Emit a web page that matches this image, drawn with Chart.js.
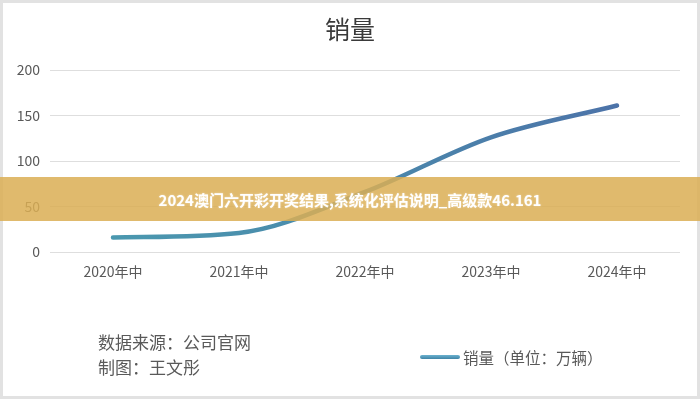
<!DOCTYPE html>
<html>
<head>
<meta charset="utf-8">
<script src="https://cdn.jsdelivr.net/npm/chart.js@4"></script>
<style>
  html, body { margin: 0; padding: 0; background: #fff; }
  #wrap { position: relative; width: 700px; height: 399px; overflow: hidden; }
  #frame { position: absolute; left: 0; top: 0; width: 700px; height: 399px; box-sizing: border-box;
    border: 3px solid #e2e2e2; pointer-events: none; }
  #title { position: absolute; left: 0; width: 700px; top: 10px; text-align: center;
    font: 400 25px "Noto Sans CJK SC", sans-serif; color: #3a3a3a; }
  .note { position: absolute; left: 98px; font: 400 17px "Noto Sans CJK SC", sans-serif; color: #595959; line-height: 24px; }
  #legend { position: absolute; left: 420px; top: 346px; display: flex; align-items: center;
    font: 400 15.5px "Noto Sans CJK SC", sans-serif; color: #595959; }
  #legend .swatch { width: 40px; height: 4px; border-radius: 2px; margin-right: 3px;
    background: linear-gradient(#6cb2cf, #3f84a6); }
  #banner { position: absolute; left: 0; top: 177px; width: 700px; height: 44px;
    display: flex; align-items: center; justify-content: center;
    background: rgba(218, 174, 84, 0.85); color: #fff;
    font: 700 15px "Noto Sans CJK SC", sans-serif; text-shadow: 0 0 2px rgba(255,255,255,0.5); }
</style>
</head>
<body>
<div id="wrap">
  <canvas id="salesChart"></canvas>
  <div id="frame"></div>
  <div id="title">销量</div>
  <div class="note" style="top:330px">数据来源：公司官网</div>
  <div class="note" style="top:355px">制图：王文彤</div>
  <div id="legend"><span class="swatch"></span>销量（单位：万辆）</div>
  <div id="banner">2024澳门六开彩开奖结果,系统化评估说明_高级款46.161</div>
</div>
<script>
const years = ["2020年中", "2021年中", "2022年中", "2023年中", "2024年中"];
const sales = [16, 21, 66, 126, 161];
const yTicks = [0, 50, 100, 150, 200];

const tickFont = { family: "'Noto Sans CJK SC', sans-serif", size: 14 };

function lineGradient(ctx) {
  const area = ctx.chart.chartArea;
  if (!area) return "#4a8fb0";
  const g = ctx.chart.ctx.createLinearGradient(area.left, 0, area.right, 0);
  g.addColorStop(0, "#4b9cb0");
  g.addColorStop(0.5, "#4a88ab");
  g.addColorStop(1, "#4d6ea8");
  return g;
}

const canvas = document.getElementById("salesChart");

new Chart(canvas.getContext("2d"), {
  type: "line",
  data: {
    labels: years,
    datasets: [
      {
        label: "销量（单位：万辆）",
        data: sales,
        borderColor: lineGradient,
        borderWidth: 4.5,
        borderCapStyle: "round",
        cubicInterpolationMode: "monotone",
        pointRadius: 0,
        fill: false,
      },
    ],
  },
  options: {
    responsive: true,
    maintainAspectRatio: false,
    animation: false,
    layout: { padding: { top: 70, right: 20, bottom: 117, left: 0 } },
    plugins: {
      legend: { display: false },
      title: { display: false },
      tooltip: { enabled: false },
    },
    scales: {
      x: {
        offset: true,
        grid: { display: false, drawTicks: false },
        border: { display: false },
        ticks: { color: "#595959", font: tickFont, padding: 11, maxRotation: 0 },
        afterFit: (scale) => { scale.height = 30; },
      },
      y: {
        min: 0,
        max: 200,
        afterBuildTicks: (scale) => { scale.ticks = yTicks.map((v) => ({ value: v })); },
        grid: { color: "#dedede", lineWidth: 1, drawTicks: false },
        border: { display: false },
        ticks: { color: "#595959", font: tickFont, padding: 10 },
        afterFit: (scale) => { scale.width = 50; },
      },
    },
  },
});
</script>
</body>
</html>
